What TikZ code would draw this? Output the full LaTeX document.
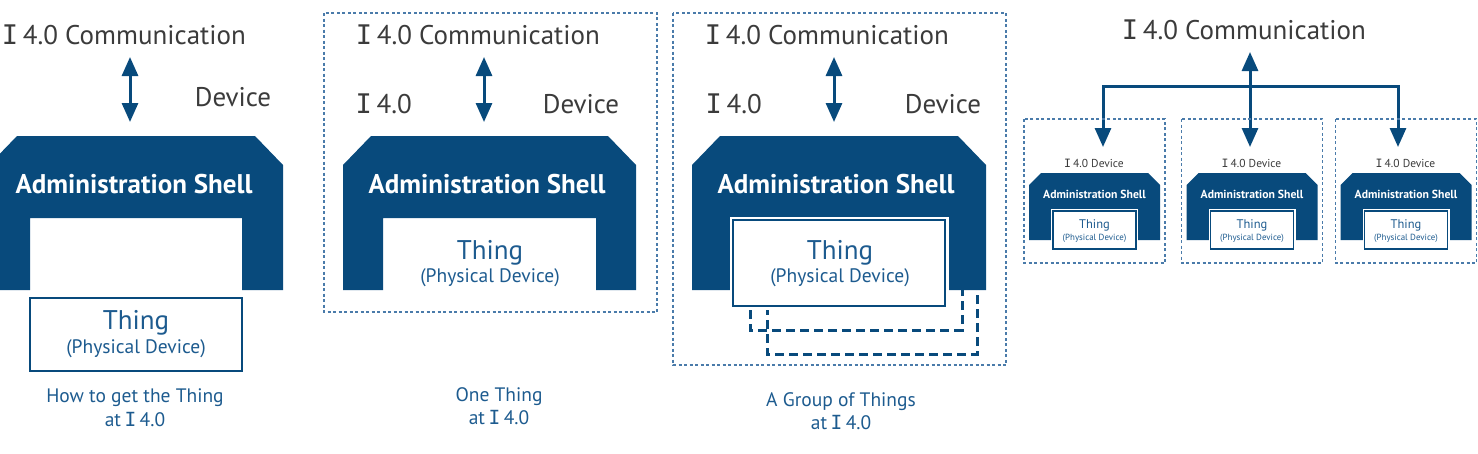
\documentclass[tikz,border=0pt]{standalone}
\usepackage{fontspec}
\setmainfont{PT Sans}
\newfontfamily\serIfont{DejaVu Sans Mono}
\newcommand{\Ii}{{\serIfont\kern-0.09em I\kern-0.09em}}
\usetikzlibrary{arrows.meta}
\definecolor{shellblue}{HTML}{084A7C}
\definecolor{txtgrey}{HTML}{3B3B3B}
\definecolor{thingblue}{HTML}{1D5B8F}
\definecolor{framecol}{HTML}{4A7BAA}
\newcommand{\drawshell}[9]{\fill[shellblue] ({#1+#5},#3) -- ({#2-#5},#3) -- (#2,{#3+#4}) -- (#2,#6) -- (#8,#6) -- (#8,#9) -- (#7,#9) -- (#7,#6) -- (#1,#6) -- (#1,{#3+#4}) -- cycle;}
\tikzset{
  commtxt/.style={font=\fontsize{27}{32}\selectfont, text=txtgrey, inner sep=0pt},
  shelltxt/.style={font=\bfseries\fontsize{27}{32}\selectfont, text=white, inner sep=0pt},
  thingtxt/.style={font=\fontsize{27}{32}\selectfont, text=thingblue, inner sep=0pt},
  phystxt/.style={font=\fontsize{19.5}{22}\selectfont, text=thingblue, inner sep=0pt},
  captxt/.style={font=\fontsize{19.5}{23.5}\selectfont, text=thingblue, inner sep=0pt, align=center},
  smalltxt/.style={font=\fontsize{11.5}{13}\selectfont, text=txtgrey, inner sep=0pt},
  smallshell/.style={font=\bfseries\fontsize{11.7}{13}\selectfont, text=white, inner sep=0pt},
  smallthing/.style={font=\fontsize{12.5}{14}\selectfont, text=thingblue, inner sep=0pt},
  smallphys/.style={font=\fontsize{8.9}{10}\selectfont, text=thingblue, inner sep=0pt},
  thingbox/.style={draw=shellblue, fill=white, line width=2.5pt, inner sep=0pt},
  haloed/.style={preaction={draw=white, line width=7pt}},
  frame/.style={draw=framecol, line width=1.3pt, dash pattern=on 3pt off 2.5pt},
  stackbox/.style={draw=shellblue, line width=3pt, dash pattern=on 9pt off 5pt},
  biarrow/.style={draw=shellblue, line width=3pt, {Triangle[width=16pt,length=19pt]}-{Triangle[width=16pt,length=19pt]}},
}
\begin{document}
\begin{tikzpicture}[x=1pt,y=-1pt]
\useasboundingbox (0,0) rectangle (1478,453);
% ---------- Panel 1 ----------
\node[commtxt] (comm1) at (125,35) {\Ii{} 4.0 Communication};
\node[commtxt] (dev1) at (233,97) {Device};
\coordinate (a1t) at (130,57);
\coordinate (a1b) at (130,122);
\draw[biarrow] (a1t) -- (a1b);
\begin{scope}
\clip (0,0) rectangle (1478,453);
\drawshell{-11}{283}{136}{29}{28}{290}{30}{242}{218}
\end{scope}
\node[shelltxt] (sh1) at (134,184) {Administration Shell};
\node[thingbox, minimum width=212pt, minimum height=73pt] (tb1) at (136,334.5) {};
\node[thingtxt] (th1) at (136,323) {Thing};
\node[phystxt] (ph1) at (136,349) {(Physical Device)};
\node[captxt] (cap1) at (135,407.5) {How to get the Thing\\at \Ii{} 4.0};
% ---------- Panel 2 ----------
\draw[frame] (324,13) rectangle (657,312);
\node[commtxt] (comm2) at (479,35) {\Ii{} 4.0 Communication};
\node[commtxt] (i2) at (385,104) {\Ii{} 4.0};
\node[commtxt] (dev2) at (581,104) {Device};
\coordinate (a2t) at (484,57);
\coordinate (a2b) at (484,122);
\draw[biarrow] (a2t) -- (a2b);
\drawshell{343}{636}{136}{29}{28}{290}{383}{596}{218}
\node[shelltxt] (sh2) at (487,184) {Administration Shell};
\node[thingtxt] (th2) at (490,253) {Thing};
\node[phystxt] (ph2) at (490,278) {(Physical Device)};
\node[captxt] (cap2) at (499,406) {One Thing\\at \Ii{} 4.0};
% ---------- Panel 3 ----------
\draw[frame] (673,13) rectangle (1006,365);
\node[commtxt] (comm3) at (828,35) {\Ii{} 4.0 Communication};
\node[commtxt] (i3) at (735,104) {\Ii{} 4.0};
\node[commtxt] (dev3) at (943,104) {Device};
\coordinate (a3t) at (834,57);
\coordinate (a3b) at (834,122);
\draw[biarrow] (a3t) -- (a3b);
\draw[stackbox] (767,264) rectangle (977,354);
\draw[stackbox] (750,240) rectangle (962,330);
\drawshell{692}{986}{136}{29}{28}{290}{733}{945}{218}
\node[shelltxt] (sh3) at (836,184) {Administration Shell};
\node[thingbox, haloed, minimum width=212pt, minimum height=86pt] (tb3) at (839,263) {};
\node[thingtxt] (th3) at (840,253) {Thing};
\node[phystxt] (ph3) at (840,278) {(Physical Device)};
\node[captxt] (cap3) at (841,411) {A Group of Things\\at \Ii{} 4.0};
% ---------- Panel 4 ----------
\node[commtxt] (comm4) at (1245,30) {\Ii{} 4.0 Communication};
\coordinate (a4t) at (1250,52);
\coordinate (a4b) at (1250,147);
\coordinate (hl) at (1103,86);
\coordinate (hr) at (1398,86);
\coordinate (d1) at (1103,147);
\coordinate (d3) at (1398,147);
\draw[biarrow] (a4t) -- (a4b);
\draw[biarrow] (d1) -- (hl) -- (hr) -- (d3);
\foreach \cx/\k in {1094.5/1,1252/2,1406/3}{
  \draw[frame] ({\cx-70.5},119) rectangle ({\cx+70.5},263);
  \node[smalltxt] (sd\k) at (\cx,163) {\Ii{} 4.0 Device};
  \drawshell{\cx-65.5}{\cx+65.5}{173}{12}{12}{240}{\cx-42}{\cx+42}{209}
  \node[smallshell] (ss\k) at (\cx,194) {Administration Shell};
  \node[draw=shellblue, fill=white, line width=1.5pt, inner sep=0pt, preaction={draw=white, line width=4pt}, minimum width=83pt, minimum height=38pt] (stb\k) at (\cx,230) {};
  \node[smallthing] (st\k) at (\cx,225) {Thing};
  \node[smallphys] (sp\k) at (\cx,238) {(Physical Device)};
}
\end{tikzpicture}
\end{document}
